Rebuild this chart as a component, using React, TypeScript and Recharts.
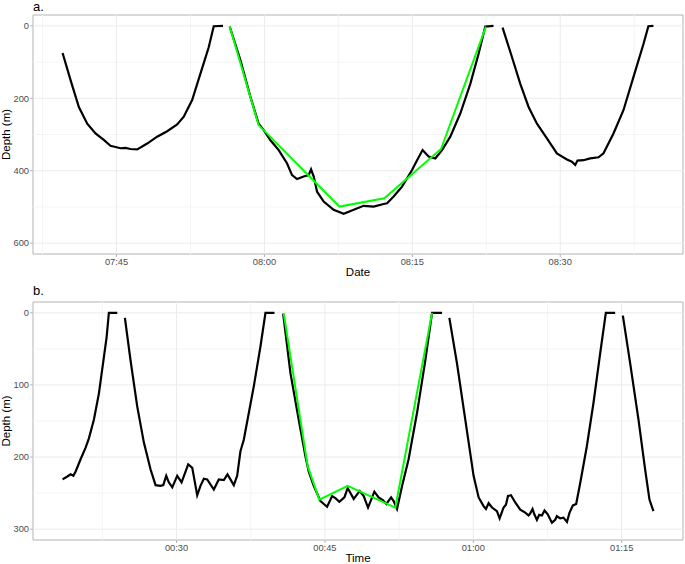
import { LineChart, Line, XAxis, YAxis, ReferenceLine, ReferenceArea, Label } from "recharts";

// times are minutes after midnight, depth in metres

// panel a. – dives around 08:00
const diveA1 = [
  [459.53, 75], [460.34, 150], [461.18, 224], [462.03, 270], [462.87, 297],
  [463.71, 315], [464.39, 331], [465.41, 338], [465.91, 337], [466.42, 340],
  [467.1, 341], [468.11, 325], [469.12, 306], [470.14, 291], [471.15, 272],
  [471.82, 251], [472.67, 205], [473.51, 132], [474.35, 59], [474.86, 1], [475.8, 0],
];
const diveA2 = [
  [476.48, 2], [477.57, 95], [478.58, 196], [479.41, 270], [479.93, 288],
  [480.61, 316], [481.45, 343], [482.3, 380], [482.8, 412], [483.31, 423],
  [483.98, 416], [484.49, 412], [484.73, 396], [485.0, 416], [485.34, 458],
  [486.01, 485], [487.02, 508], [488.04, 519], [489.05, 508], [490.06, 497],
  [491.08, 499], [492.09, 492], [492.44, 490], [493.1, 471], [493.96, 444],
  [494.97, 398], [495.48, 371], [496.04, 343], [496.65, 361], [497.33, 366],
  [498.01, 343], [498.85, 306], [499.86, 242], [500.88, 160], [501.72, 77],
  [502.4, 2], [503.23, 0],
];
const diveA3 = [
  [504.15, 5], [505.1, 86], [505.95, 160], [506.79, 224], [507.64, 270],
  [508.65, 311], [509.66, 352], [510.68, 369], [511.18, 375], [511.52, 384],
  [511.75, 372], [512.36, 371], [513.04, 366], [513.88, 363], [514.39, 352],
  [515.4, 297], [516.41, 233], [517.43, 141], [518.44, 50], [518.94, 1], [519.45, 0],
];
const fitA = [
  [476.48, 2], [479.41, 274], [487.6, 499], [492.16, 476], [497.91, 340], [502.47, 2],
];

// panel b. – dives around 00:45
const diveB1 = [
  [18.48, 231], [18.96, 227], [19.29, 224], [19.57, 226], [19.8, 220],
  [20.3, 203], [20.81, 187], [21.14, 174], [21.65, 148], [22.15, 112],
  [22.66, 61], [22.93, 34], [23.16, 0], [24.01, 0],
];
const diveB2 = [
  [24.78, 7], [25.35, 66], [26.03, 130], [26.7, 180], [27.37, 217],
  [27.88, 239], [28.38, 240], [28.66, 239], [28.96, 226], [29.22, 235],
  [29.57, 242], [30.07, 226], [30.51, 235], [31.18, 210], [31.59, 215],
  [32.09, 253], [32.42, 240], [32.76, 230], [33.1, 231], [33.77, 245],
  [34.27, 231], [34.78, 232], [35.15, 224], [35.45, 231], [35.79, 239],
  [36.13, 226], [36.46, 192], [36.8, 176], [37.81, 102], [38.48, 47],
  [38.99, 0], [39.9, 0],
];
const diveB3 = [
  [40.78, 1], [41.52, 84], [42.35, 148], [43.03, 199], [43.36, 220],
  [43.87, 240], [44.55, 261], [44.72, 263], [45.22, 269], [45.73, 254],
  [46.06, 257], [46.46, 262], [46.97, 256], [47.3, 243], [47.91, 258],
  [48.52, 247], [48.92, 254], [49.36, 270], [50.0, 248], [50.43, 256],
  [50.88, 260], [51.21, 265], [51.69, 256], [51.95, 261], [52.29, 272],
  [52.8, 240], [53.46, 203], [54.31, 139], [55.15, 66], [55.83, 0], [56.84, 0],
];
const diveB4 = [
  [57.58, 7], [58.35, 70], [59.19, 148], [60.03, 226], [60.54, 256],
  [61.04, 268], [61.28, 272], [61.55, 264], [61.89, 270], [62.39, 275],
  [62.66, 285], [63.06, 270], [63.3, 266], [63.51, 254], [63.81, 253],
  [64.24, 263], [64.75, 273], [65.25, 277], [65.59, 281], [65.76, 278],
  [65.99, 272], [66.16, 279], [66.43, 287], [66.67, 280], [66.94, 281],
  [67.2, 274], [67.51, 279], [67.95, 291], [68.28, 287], [68.45, 282],
  [68.79, 285], [69.12, 284], [69.47, 290], [69.73, 277], [70.07, 267],
  [70.4, 265], [70.81, 236], [71.48, 185], [72.15, 125], [72.83, 56],
  [73.4, 0], [74.34, 0],
];
const diveB5 = [
  [75.12, 4], [75.86, 70], [76.7, 148], [77.37, 217], [77.81, 259], [78.21, 275],
];
const fitB = [
  [40.84, 1], [43.26, 213], [44.44, 259], [47.3, 240], [52.12, 270], [55.83, 0],
];

const ticksA = [465, 480, 495, 510];
const minorXA = [457.5, 472.5, 487.5, 502.5, 517.5];
const depthTicksA = [0, 200, 400, 600];
const minorYA = [100, 300, 500];

const ticksB = [30, 45, 60, 75];
const minorXB = [22.5, 37.5, 52.5, 67.5];
const depthTicksB = [0, 100, 200, 300];
const minorYB = [50, 150, 250];

const toPts = (arr: number[][]) => arr.map(([t, d]) => ({ t, d }));
const pad = (n: number) => String(n).padStart(2, "0");
const hhmm = (m: number) => pad(Math.floor(m / 60)) + ":" + pad(Math.round(m % 60));

const GRID = "#ebebeb";
const MINOR = "#f5f5f5";
const BORDER = "#b3b3b3";
const tickStyle = { fill: "#4d4d4d", fontSize: 9.3 };

interface PanelProps {
  title: string;
  xTitle: string;
  dives: number[][][];
  fit: number[][];
  xDomain: [number, number];
  xTicks: number[];
  xMinor: number[];
  yDomain: [number, number];
  yTicks: number[];
  yMinor: number[];
  top: number;
  marginTop: number;
  xHeight: number;
  titleTop: number;
}

function Panel(p: PanelProps) {
  return (
    <div style={{ position: "absolute", left: 0, top: p.top, width: 685, height: 282 }}>
      <div
        style={{
          position: "absolute",
          left: 33,
          top: p.titleTop,
          fontSize: 13,
          lineHeight: "13px",
          color: "#000",
        }}
      >
        {p.title}
      </div>
      <LineChart
        width={685}
        height={282}
        margin={{ top: p.marginTop, right: 2, bottom: 0, left: 0 }}
      >
        <XAxis
          type="number"
          dataKey="t"
          domain={p.xDomain}
          allowDataOverflow
          ticks={p.xTicks}
          tickFormatter={hhmm}
          height={p.xHeight}
          axisLine={false}
          tickLine={{ stroke: BORDER }}
          tickSize={3}
          tickMargin={1}
          tick={tickStyle}
        >
          <Label value={p.xTitle} position="insideBottom" offset={p.xHeight - 22} style={{ fontSize: 11.5, fill: "#000" }} />
        </XAxis>
        <YAxis
          type="number"
          dataKey="d"
          reversed
          domain={p.yDomain}
          allowDataOverflow
          ticks={p.yTicks}
          width={33}
          axisLine={false}
          tickLine={{ stroke: BORDER }}
          tickSize={3}
          tickMargin={1}
          tick={tickStyle}
        >
          <Label
            value="Depth (m)"
            angle={-90}
            position="insideLeft"
            offset={6}
            style={{ fontSize: 11.5, fill: "#000", textAnchor: "middle" }}
          />
        </YAxis>
        {p.yMinor.map((v) => (
          <ReferenceLine key={"ym" + v} y={v} stroke={MINOR} strokeWidth={1} />
        ))}
        {p.xMinor.map((v) => (
          <ReferenceLine key={"xm" + v} x={v} stroke={MINOR} strokeWidth={1} />
        ))}
        {p.yTicks.map((v) => (
          <ReferenceLine key={"y" + v} y={v} stroke={GRID} strokeWidth={1} />
        ))}
        {p.xTicks.map((v) => (
          <ReferenceLine key={"x" + v} x={v} stroke={GRID} strokeWidth={1} />
        ))}
        {p.dives.map((seg, i) => (
          <Line
            key={"dive" + i}
            data={toPts(seg)}
            dataKey="d"
            type="linear"
            stroke="#000"
            strokeWidth={2.2}
            dot={false}
            activeDot={false}
            isAnimationActive={false}
          />
        ))}
        <Line
          data={toPts(p.fit)}
          dataKey="d"
          type="linear"
          stroke="#00ff00"
          strokeWidth={2}
          dot={false}
          activeDot={false}
          isAnimationActive={false}
        />
        <ReferenceArea
          x1={p.xDomain[0]}
          x2={p.xDomain[1]}
          y1={p.yDomain[0]}
          y2={p.yDomain[1]}
          fill="none"
          stroke={BORDER}
          strokeWidth={1}
          ifOverflow="visible"
        />
      </LineChart>
    </div>
  );
}

export default function App() {
  return (
    <div
      style={{
        position: "absolute",
        left: 0,
        top: 0,
        width: 685,
        height: 564,
        background: "#fff",
        fontFamily: "'Liberation Sans', Arial, sans-serif",
      }}
    >
      <Panel
        title="a."
        xTitle="Date"
        dives={[diveA1, diveA2, diveA3]}
        fit={fitA}
        xDomain={[456.53, 522.45]}
        xTicks={ticksA}
        xMinor={minorXA}
        yDomain={[-30, 630]}
        yTicks={depthTicksA}
        yMinor={minorYA}
        top={0}
        marginTop={15}
        xHeight={28}
        titleTop={0}
      />
      <Panel
        title="b."
        xTitle="Time"
        dives={[diveB1, diveB2, diveB3, diveB4, diveB5]}
        fit={fitB}
        xDomain={[15.49, 81.2]}
        xTicks={ticksB}
        xMinor={minorXB}
        yDomain={[-15, 315]}
        yTicks={depthTicksB}
        yMinor={minorYB}
        top={282}
        marginTop={20}
        xHeight={24}
        titleTop={2}
      />
    </div>
  );
}
